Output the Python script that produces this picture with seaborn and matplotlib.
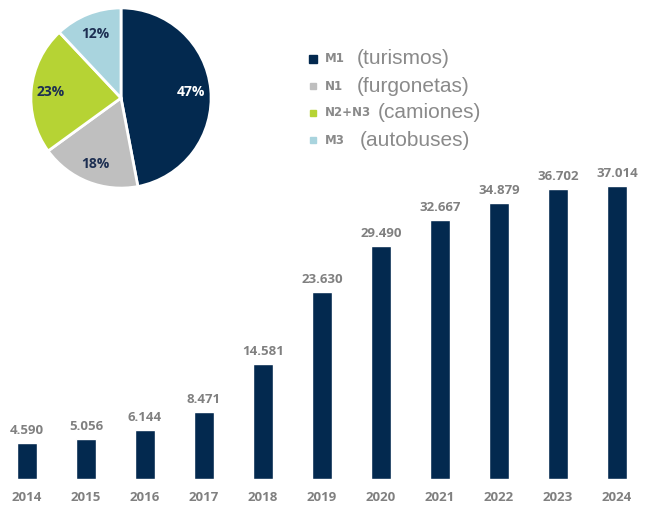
import pandas as pd
import seaborn as sns
import matplotlib.pyplot as plt
from matplotlib.patches import Rectangle

# datos
years = ["2014", "2015", "2016", "2017", "2018", "2019", "2020", "2021", "2022", "2023", "2024"]
values = [4590, 5056, 6144, 8471, 14581, 23630, 29490, 32667, 34879, 36702, 37014]

pie_codes = ["M1", "N1", "N2+N3", "M3"]
pie_names = ["(turismos)", "(furgonetas)", "(camiones)", "(autobuses)"]
pie_shares = [47, 18, 23, 12]

navy = "#03294f"
pie_colors = [navy, "#bfbfbf", "#b6d334", "#a9d4de"]
gray_txt = "#808080"

sns.set_theme(style="white")
plt.rcParams['font.family'] = ['Open Sans', 'DejaVu Sans']

fig = plt.figure(figsize=(6.59, 5.10), dpi=100)

# barras
ax = fig.add_axes([0.45 / 659, 30 / 510, 643.1 / 659, 316.6 / 510])
df = pd.DataFrame({"year": years, "value": values})
sns.barplot(data=df, x="year", y="value", color=navy, width=0.34, saturation=1, ax=ax)
ax.set_xlim(-0.45, 10.45)
ax.set_ylim(0, 40000)
for i, v in enumerate(values):
    lbl = f"{v:,}".replace(",", ".")
    ax.annotate(lbl, (i, v), xytext=(0, 5), textcoords="offset points",
                ha="center", va="bottom", fontsize=9.5, fontweight="bold", color=gray_txt)
sns.despine(ax=ax, left=True, bottom=True)
ax.set_yticks([])
ax.set_xlabel("")
ax.set_ylabel("")
ax.tick_params(axis="x", length=0, pad=8, labelsize=9.5, labelcolor=gray_txt)
for t in ax.get_xticklabels():
    t.set_fontweight("bold")

# tarta
pax = fig.add_axes([30 / 659, (510 - 190) / 510, 182 / 659, 182 / 510])
wedges, texts, autotexts = pax.pie(pie_shares, colors=pie_colors, startangle=90, counterclock=False,
                                   autopct="%d%%", pctdistance=0.78,
                                   wedgeprops=dict(edgecolor="white", linewidth=2))
for i, t in enumerate(autotexts):
    t.set_fontsize(10)
    t.set_fontweight("bold")
    t.set_color("white" if i == 0 else "#1d2f52")
pax.set_xlim(-1.01, 1.01)
pax.set_ylim(-1.01, 1.01)
pax.set_aspect("equal")

# leyenda
rows_y = [59, 86, 113, 140]
desc_x = [357, 357, 378, 360]
for code, name, col, y, dx in zip(pie_codes, pie_names, pie_colors, rows_y, desc_x):
    fy = 1 - y / 510
    sq = 8 if code == "M1" else 6
    fig.add_artist(Rectangle(((313 - sq / 2) / 659, fy - (sq / 2 + 1) / 510), sq / 659, sq / 510,
                             transform=fig.transFigure, color=col))
    fig.text(325 / 659, fy, code, fontsize=8.5, fontweight="bold", color="#8a8a8a", va="center",
             family=["DejaVu Sans"])
    fig.text(dx / 659, fy, name, fontsize=15, color="#8a8a8a", va="center",
             family=["Liberation Sans", "DejaVu Sans"])

fig.savefig("out.png", dpi=100)
